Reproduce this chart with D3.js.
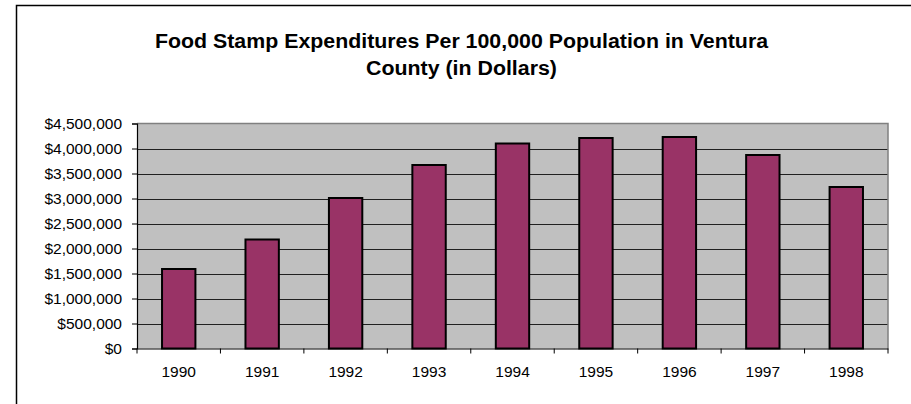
<!DOCTYPE html>
<html>
<head>
<meta charset="utf-8">
<script src="https://cdn.jsdelivr.net/npm/d3@7"></script>
<style>
  html, body { margin: 0; padding: 0; background: #fff; }
  svg { display: block; }
  text { font-family: "Liberation Sans", Arial, sans-serif; fill: #000; }
</style>
</head>
<body>
<svg id="chart" width="911" height="404"></svg>
<script>
const titleLines = ["Food Stamp Expenditures Per 100,000 Population in Ventura", "County (in Dollars)"];
const years = ["1990", "1991", "1992", "1993", "1994", "1995", "1996", "1997", "1998"];
const expenditures = [1590000, 2180000, 3010000, 3670000, 4100000, 4210000, 4230000, 3870000, 3230000];
const yTicks = [0, 500000, 1000000, 1500000, 2000000, 2500000, 3000000, 3500000, 4000000, 4500000];

const svg = d3.select("#chart");
const plot = { left: 137, right: 888, top: 123.5, bottom: 348.5 };

// outer chart border
svg.append("rect")
  .attr("x", 16.5).attr("y", 5.5)
  .attr("width", 1000).attr("height", 1000)
  .attr("fill", "none").attr("stroke", "#000").attr("stroke-width", 1.5);

// title
const title = svg.append("g");
titleLines.forEach((t, i) => {
  title.append("text")
    .attr("x", 461.5).attr("y", 48 + i * 27)
    .attr("text-anchor", "middle")
    .attr("font-size", 19.5)
    .attr("font-weight", "bold")
    .attr("transform", `translate(461.5,0) scale(1.095,1) translate(-461.5,0)`)
    .text(t);
});

const x = d3.scaleBand().domain(years).range([plot.left, plot.right]).paddingInner(0.6).paddingOuter(0.3);
const xBand = d3.scaleBand().domain(years).range([plot.left, plot.right]);
const y = d3.scaleLinear().domain([0, 4500000]).range([plot.bottom, plot.top]);

// plot background
svg.append("rect")
  .attr("x", plot.left).attr("y", plot.top)
  .attr("width", plot.right - plot.left).attr("height", plot.bottom - plot.top)
  .attr("fill", "#c0c0c0");

// gridlines
svg.append("g").selectAll("line")
  .data(yTicks.filter(d => d > 0 && d < 4500000))
  .join("line")
  .attr("x1", plot.left).attr("x2", plot.right)
  .attr("y1", d => Math.round(y(d)) + 0.5).attr("y2", d => Math.round(y(d)) + 0.5)
  .attr("stroke", "#202020").attr("stroke-width", 1.2);

// plot border top/right
svg.append("path")
  .attr("d", `M${plot.left},${plot.top}H${plot.right}V${plot.bottom}`)
  .attr("fill", "none").attr("stroke", "#808080").attr("stroke-width", 1.5);

// bars
svg.append("g").selectAll("rect")
  .data(years.map((yr, i) => ({ yr, v: expenditures[i] })))
  .join("rect")
  .attr("x", d => x(d.yr))
  .attr("y", d => y(d.v))
  .attr("width", x.bandwidth())
  .attr("height", d => y(0) - y(d.v))
  .attr("fill", "#993366")
  .attr("stroke", "#000").attr("stroke-width", 2);

// y axis
const yAxis = d3.axisLeft(y)
  .tickValues(yTicks)
  .tickSize(5)
  .tickPadding(10)
  .tickFormat(d => "$" + d3.format(",")(d));
const ya = svg.append("g").attr("transform", `translate(${plot.left},0)`).call(yAxis);
ya.select(".domain").attr("stroke", "#000").attr("stroke-width", 1.2);
ya.selectAll(".tick line").attr("stroke", "#000");
ya.selectAll(".tick text").attr("font-size", 15.5).attr("font-family", "Liberation Sans, Arial, sans-serif").attr("fill", "#000");

// x axis
const xAxis = d3.axisBottom(xBand).tickSize(0).tickPadding(17);
const xa = svg.append("g").attr("transform", `translate(0,${plot.bottom})`).call(xAxis);
xa.select(".domain").attr("stroke", "#000").attr("stroke-width", 1.2);
xa.selectAll(".tick text").attr("font-size", 15.5).attr("font-family", "Liberation Sans, Arial, sans-serif").attr("fill", "#000");

// x tick marks at category boundaries
const bounds = years.map(yr => xBand(yr)).concat([plot.right]);
xa.append("g").selectAll("line")
  .data(bounds)
  .join("line")
  .attr("x1", d => d).attr("x2", d => d)
  .attr("y1", 0).attr("y2", 5)
  .attr("stroke", "#000");
</script>
</body>
</html>
